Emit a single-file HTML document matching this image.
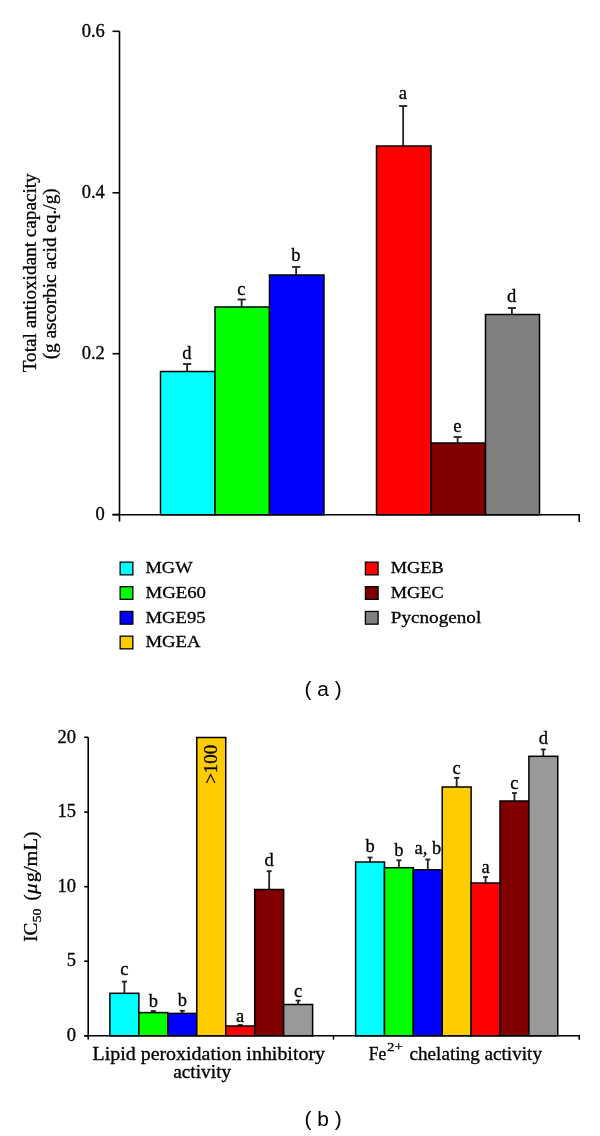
<!DOCTYPE html>
<html><head><meta charset="utf-8"><style>
html,body{margin:0;padding:0;background:#fff;width:600px;height:1136px;overflow:hidden}
svg{display:block;will-change:transform}
text{stroke:#000;stroke-width:0.3px}
</style></head><body>
<svg width="600" height="1136" viewBox="0 0 600 1136">
<rect x="0" y="0" width="600" height="1136" fill="#fff"/>
<line x1="119.50" y1="31.30" x2="119.50" y2="521.50" stroke="#000" stroke-width="1.6"/>
<line x1="112.50" y1="514.80" x2="580.00" y2="514.80" stroke="#000" stroke-width="1.6"/>
<line x1="579.20" y1="514.80" x2="579.20" y2="522.00" stroke="#000" stroke-width="1.6"/>
<line x1="112.50" y1="31.30" x2="119.50" y2="31.30" stroke="#000" stroke-width="1.6"/>
<text x="104.80" y="36.50" font-family='"Liberation Serif", serif' font-size="18.5" text-anchor="end" >0.6</text>
<line x1="112.50" y1="192.80" x2="119.50" y2="192.80" stroke="#000" stroke-width="1.6"/>
<text x="104.80" y="198.00" font-family='"Liberation Serif", serif' font-size="18.5" text-anchor="end" >0.4</text>
<line x1="112.50" y1="353.70" x2="119.50" y2="353.70" stroke="#000" stroke-width="1.6"/>
<text x="104.80" y="358.90" font-family='"Liberation Serif", serif' font-size="18.5" text-anchor="end" >0.2</text>
<line x1="112.50" y1="514.50" x2="119.50" y2="514.50" stroke="#000" stroke-width="1.6"/>
<text x="104.80" y="519.70" font-family='"Liberation Serif", serif' font-size="18.5" text-anchor="end" >0</text>
<line x1="187.15" y1="371.50" x2="187.15" y2="364.00" stroke="#222" stroke-width="1.8"/>
<line x1="183.05" y1="364.00" x2="191.25" y2="364.00" stroke="#222" stroke-width="1.8"/>
<line x1="241.65" y1="307.00" x2="241.65" y2="299.50" stroke="#222" stroke-width="1.8"/>
<line x1="237.55" y1="299.50" x2="245.75" y2="299.50" stroke="#222" stroke-width="1.8"/>
<line x1="296.15" y1="275.00" x2="296.15" y2="267.00" stroke="#222" stroke-width="1.8"/>
<line x1="292.05" y1="267.00" x2="300.25" y2="267.00" stroke="#222" stroke-width="1.8"/>
<line x1="403.15" y1="146.00" x2="403.15" y2="106.00" stroke="#222" stroke-width="1.8"/>
<line x1="399.05" y1="106.00" x2="407.25" y2="106.00" stroke="#222" stroke-width="1.8"/>
<line x1="457.65" y1="443.00" x2="457.65" y2="437.00" stroke="#222" stroke-width="1.8"/>
<line x1="453.55" y1="437.00" x2="461.75" y2="437.00" stroke="#222" stroke-width="1.8"/>
<line x1="511.90" y1="314.50" x2="511.90" y2="308.00" stroke="#222" stroke-width="1.8"/>
<line x1="507.80" y1="308.00" x2="516.00" y2="308.00" stroke="#222" stroke-width="1.8"/>
<rect x="160.50" y="371.50" width="54.50" height="143.30" fill="#00FFFF" stroke="#000" stroke-width="1.5"/>
<rect x="215.00" y="307.00" width="54.50" height="207.80" fill="#00FF00" stroke="#000" stroke-width="1.5"/>
<rect x="269.50" y="275.00" width="54.50" height="239.80" fill="#0000FF" stroke="#000" stroke-width="1.5"/>
<rect x="376.50" y="146.00" width="54.50" height="368.80" fill="#FF0000" stroke="#000" stroke-width="1.5"/>
<rect x="431.00" y="443.00" width="54.50" height="71.80" fill="#800000" stroke="#000" stroke-width="1.5"/>
<rect x="485.50" y="314.50" width="54.00" height="200.30" fill="#808080" stroke="#000" stroke-width="1.5"/>
<text x="186.95" y="359.20" font-family='"Liberation Serif", serif' font-size="18.5" text-anchor="middle" >d</text>
<text x="241.45" y="294.60" font-family='"Liberation Serif", serif' font-size="18.5" text-anchor="middle" >c</text>
<text x="295.95" y="261.30" font-family='"Liberation Serif", serif' font-size="18.5" text-anchor="middle" >b</text>
<text x="402.95" y="98.60" font-family='"Liberation Serif", serif' font-size="18.5" text-anchor="middle" >a</text>
<text x="457.45" y="432.30" font-family='"Liberation Serif", serif' font-size="18.5" text-anchor="middle" >e</text>
<text x="511.70" y="302.00" font-family='"Liberation Serif", serif' font-size="18.5" text-anchor="middle" >d</text>
<g transform="translate(36,272.8) rotate(-90)">
<text x="0.00" y="0.00" font-family='"Liberation Serif", serif' font-size="18" text-anchor="middle" textLength="199.00" lengthAdjust="spacingAndGlyphs" >Total antioxidant capacity</text>
</g>
<g transform="translate(55.5,273.8) rotate(-90)">
<text x="0.00" y="0.00" font-family='"Liberation Serif", serif' font-size="18" text-anchor="middle" textLength="171.00" lengthAdjust="spacingAndGlyphs" >(g ascorbic acid eq./g)</text>
</g>
<rect x="120.15" y="562.15" width="12.7" height="12.7" fill="#00FFFF" stroke="#000" stroke-width="1.3"/>
<text x="145.50" y="573.30" font-family='"Liberation Serif", serif' font-size="17.5" text-anchor="start" textLength="47.00" lengthAdjust="spacingAndGlyphs" >MGW</text>
<rect x="120.15" y="586.65" width="12.7" height="12.7" fill="#00FF00" stroke="#000" stroke-width="1.3"/>
<text x="145.50" y="597.80" font-family='"Liberation Serif", serif' font-size="17.5" text-anchor="start" textLength="60.50" lengthAdjust="spacingAndGlyphs" >MGE60</text>
<rect x="120.15" y="611.45" width="12.7" height="12.7" fill="#0000FF" stroke="#000" stroke-width="1.3"/>
<text x="145.50" y="622.60" font-family='"Liberation Serif", serif' font-size="17.5" text-anchor="start" textLength="60.00" lengthAdjust="spacingAndGlyphs" >MGE95</text>
<rect x="120.15" y="636.15" width="12.7" height="12.7" fill="#FFCC00" stroke="#000" stroke-width="1.3"/>
<text x="145.50" y="647.30" font-family='"Liberation Serif", serif' font-size="17.5" text-anchor="start" textLength="55.00" lengthAdjust="spacingAndGlyphs" >MGEA</text>
<rect x="365.40" y="562.15" width="12.7" height="12.7" fill="#FF0000" stroke="#000" stroke-width="1.3"/>
<text x="390.75" y="573.30" font-family='"Liberation Serif", serif' font-size="17.5" text-anchor="start" textLength="53.00" lengthAdjust="spacingAndGlyphs" >MGEB</text>
<rect x="365.40" y="586.65" width="12.7" height="12.7" fill="#800000" stroke="#000" stroke-width="1.3"/>
<text x="390.75" y="597.80" font-family='"Liberation Serif", serif' font-size="17.5" text-anchor="start" textLength="53.00" lengthAdjust="spacingAndGlyphs" >MGEC</text>
<rect x="365.40" y="611.45" width="12.7" height="12.7" fill="#808080" stroke="#000" stroke-width="1.3"/>
<text x="390.75" y="622.60" font-family='"Liberation Serif", serif' font-size="17.5" text-anchor="start" textLength="90.50" lengthAdjust="spacingAndGlyphs" >Pycnogenol</text>
<text x="304.60" y="695.70" font-family='"Liberation Sans", sans-serif' font-size="20" text-anchor="start" textLength="37.20" lengthAdjust="spacingAndGlyphs" style="stroke-width:0">( a )</text>
<line x1="88.20" y1="737.30" x2="88.20" y2="1039.50" stroke="#000" stroke-width="1.6"/>
<line x1="84.20" y1="1035.80" x2="580.00" y2="1035.80" stroke="#000" stroke-width="1.6"/>
<line x1="333.50" y1="1035.80" x2="333.50" y2="1039.70" stroke="#000" stroke-width="1.4"/>
<line x1="579.20" y1="1035.80" x2="579.20" y2="1039.70" stroke="#000" stroke-width="1.6"/>
<line x1="84.20" y1="737.30" x2="88.20" y2="737.30" stroke="#000" stroke-width="1.6"/>
<text x="75.90" y="742.50" font-family='"Liberation Serif", serif' font-size="18.5" text-anchor="end" >20</text>
<line x1="84.20" y1="812.10" x2="88.20" y2="812.10" stroke="#000" stroke-width="1.6"/>
<text x="75.90" y="817.30" font-family='"Liberation Serif", serif' font-size="18.5" text-anchor="end" >15</text>
<line x1="84.20" y1="886.70" x2="88.20" y2="886.70" stroke="#000" stroke-width="1.6"/>
<text x="75.90" y="891.90" font-family='"Liberation Serif", serif' font-size="18.5" text-anchor="end" >10</text>
<line x1="84.20" y1="961.20" x2="88.20" y2="961.20" stroke="#000" stroke-width="1.6"/>
<text x="75.90" y="966.40" font-family='"Liberation Serif", serif' font-size="18.5" text-anchor="end" >5</text>
<line x1="84.20" y1="1035.80" x2="88.20" y2="1035.80" stroke="#000" stroke-width="1.6"/>
<text x="75.90" y="1041.00" font-family='"Liberation Serif", serif' font-size="18.5" text-anchor="end" >0</text>
<line x1="124.38" y1="993.30" x2="124.38" y2="981.60" stroke="#222" stroke-width="1.8"/>
<line x1="121.88" y1="981.60" x2="126.88" y2="981.60" stroke="#222" stroke-width="1.8"/>
<line x1="153.34" y1="1012.60" x2="153.34" y2="1011.00" stroke="#222" stroke-width="1.8"/>
<line x1="150.84" y1="1011.00" x2="155.84" y2="1011.00" stroke="#222" stroke-width="1.8"/>
<line x1="182.30" y1="1013.40" x2="182.30" y2="1010.80" stroke="#222" stroke-width="1.8"/>
<line x1="179.80" y1="1010.80" x2="184.80" y2="1010.80" stroke="#222" stroke-width="1.8"/>
<line x1="240.22" y1="1026.00" x2="240.22" y2="1025.00" stroke="#222" stroke-width="1.8"/>
<line x1="237.72" y1="1025.00" x2="242.72" y2="1025.00" stroke="#222" stroke-width="1.8"/>
<line x1="269.18" y1="889.50" x2="269.18" y2="871.20" stroke="#222" stroke-width="1.8"/>
<line x1="266.68" y1="871.20" x2="271.68" y2="871.20" stroke="#222" stroke-width="1.8"/>
<line x1="298.14" y1="1004.50" x2="298.14" y2="1000.60" stroke="#222" stroke-width="1.8"/>
<line x1="295.64" y1="1000.60" x2="300.64" y2="1000.60" stroke="#222" stroke-width="1.8"/>
<rect x="109.90" y="993.30" width="28.96" height="42.50" fill="#00FFFF" stroke="#000" stroke-width="1.5"/>
<rect x="138.86" y="1012.60" width="28.96" height="23.20" fill="#00FF00" stroke="#000" stroke-width="1.5"/>
<rect x="167.82" y="1013.40" width="28.96" height="22.40" fill="#0000FF" stroke="#000" stroke-width="1.5"/>
<rect x="196.78" y="737.50" width="28.96" height="298.30" fill="#FFCC00" stroke="#000" stroke-width="1.5"/>
<rect x="225.74" y="1026.00" width="28.96" height="9.80" fill="#FF0000" stroke="#000" stroke-width="1.5"/>
<rect x="254.70" y="889.50" width="28.96" height="146.30" fill="#800000" stroke="#000" stroke-width="1.5"/>
<rect x="283.66" y="1004.50" width="28.96" height="31.30" fill="#999999" stroke="#000" stroke-width="1.5"/>
<text x="124.38" y="975.40" font-family='"Liberation Serif", serif' font-size="18.5" text-anchor="middle" >c</text>
<text x="153.34" y="1006.50" font-family='"Liberation Serif", serif' font-size="18.5" text-anchor="middle" >b</text>
<text x="182.30" y="1006.30" font-family='"Liberation Serif", serif' font-size="18.5" text-anchor="middle" >b</text>
<text x="240.22" y="1022.00" font-family='"Liberation Serif", serif' font-size="18.5" text-anchor="middle" >a</text>
<text x="269.18" y="865.70" font-family='"Liberation Serif", serif' font-size="18.5" text-anchor="middle" >d</text>
<text x="298.14" y="996.90" font-family='"Liberation Serif", serif' font-size="18.5" text-anchor="middle" >c</text>
<line x1="370.04" y1="862.00" x2="370.04" y2="857.50" stroke="#222" stroke-width="1.8"/>
<line x1="367.54" y1="857.50" x2="372.54" y2="857.50" stroke="#222" stroke-width="1.8"/>
<line x1="398.92" y1="867.70" x2="398.92" y2="860.30" stroke="#222" stroke-width="1.8"/>
<line x1="396.42" y1="860.30" x2="401.42" y2="860.30" stroke="#222" stroke-width="1.8"/>
<line x1="427.80" y1="869.80" x2="427.80" y2="859.50" stroke="#222" stroke-width="1.8"/>
<line x1="425.30" y1="859.50" x2="430.30" y2="859.50" stroke="#222" stroke-width="1.8"/>
<line x1="456.68" y1="787.00" x2="456.68" y2="777.90" stroke="#222" stroke-width="1.8"/>
<line x1="454.18" y1="777.90" x2="459.18" y2="777.90" stroke="#222" stroke-width="1.8"/>
<line x1="485.56" y1="883.00" x2="485.56" y2="877.00" stroke="#222" stroke-width="1.8"/>
<line x1="483.06" y1="877.00" x2="488.06" y2="877.00" stroke="#222" stroke-width="1.8"/>
<line x1="514.44" y1="801.00" x2="514.44" y2="793.00" stroke="#222" stroke-width="1.8"/>
<line x1="511.94" y1="793.00" x2="516.94" y2="793.00" stroke="#222" stroke-width="1.8"/>
<line x1="543.32" y1="756.30" x2="543.32" y2="749.40" stroke="#222" stroke-width="1.8"/>
<line x1="540.82" y1="749.40" x2="545.82" y2="749.40" stroke="#222" stroke-width="1.8"/>
<rect x="355.60" y="862.00" width="28.88" height="173.80" fill="#00FFFF" stroke="#000" stroke-width="1.5"/>
<rect x="384.48" y="867.70" width="28.88" height="168.10" fill="#00FF00" stroke="#000" stroke-width="1.5"/>
<rect x="413.36" y="869.80" width="28.88" height="166.00" fill="#0000FF" stroke="#000" stroke-width="1.5"/>
<rect x="442.24" y="787.00" width="28.88" height="248.80" fill="#FFCC00" stroke="#000" stroke-width="1.5"/>
<rect x="471.12" y="883.00" width="28.88" height="152.80" fill="#FF0000" stroke="#000" stroke-width="1.5"/>
<rect x="500.00" y="801.00" width="28.88" height="234.80" fill="#800000" stroke="#000" stroke-width="1.5"/>
<rect x="528.88" y="756.30" width="28.88" height="279.50" fill="#999999" stroke="#000" stroke-width="1.5"/>
<text x="370.04" y="852.00" font-family='"Liberation Serif", serif' font-size="18.5" text-anchor="middle" >b</text>
<text x="398.92" y="856.20" font-family='"Liberation Serif", serif' font-size="18.5" text-anchor="middle" >b</text>
<text x="427.80" y="853.60" font-family='"Liberation Serif", serif' font-size="18.5" text-anchor="middle" >a, b</text>
<text x="456.68" y="774.20" font-family='"Liberation Serif", serif' font-size="18.5" text-anchor="middle" >c</text>
<text x="485.56" y="873.30" font-family='"Liberation Serif", serif' font-size="18.5" text-anchor="middle" >a</text>
<text x="514.44" y="789.40" font-family='"Liberation Serif", serif' font-size="18.5" text-anchor="middle" >c</text>
<text x="543.32" y="743.50" font-family='"Liberation Serif", serif' font-size="18.5" text-anchor="middle" >d</text>
<g transform="translate(217,764.3) rotate(-90)">
<text x="0.00" y="0.00" font-family='"Liberation Serif", serif' font-size="18" text-anchor="middle" textLength="39.00" lengthAdjust="spacingAndGlyphs" >&gt;100</text>
</g>
<text x="92.50" y="1059.50" font-family='"Liberation Serif", serif' font-size="18" text-anchor="start" textLength="232.50" lengthAdjust="spacingAndGlyphs" >Lipid peroxidation inhibitory</text>
<text x="173.20" y="1078.00" font-family='"Liberation Serif", serif' font-size="18" text-anchor="start" textLength="58.00" lengthAdjust="spacingAndGlyphs" >activity</text>
<text x="368.80" y="1060.00" font-family='"Liberation Serif", serif' font-size="18" text-anchor="start" textLength="17.50" lengthAdjust="spacingAndGlyphs" >Fe</text>
<text x="387.00" y="1051.20" font-family='"Liberation Serif", serif' font-size="13" text-anchor="start" textLength="15.80" lengthAdjust="spacingAndGlyphs" >2+</text>
<text x="409.50" y="1060.00" font-family='"Liberation Serif", serif' font-size="18" text-anchor="start" textLength="132.50" lengthAdjust="spacingAndGlyphs" >chelating activity</text>
<g transform="translate(36.5,941.5) rotate(-90)">
<text x="-0.30" y="0.00" font-family='"Liberation Serif", serif' font-size="18" text-anchor="start" textLength="19.20" lengthAdjust="spacingAndGlyphs" >IC</text>
<text x="19.00" y="4.60" font-family='"Liberation Serif", serif' font-size="13" text-anchor="start" textLength="14.00" lengthAdjust="spacingAndGlyphs" >50</text>
<text x="41.00" y="0.00" font-family='"Liberation Serif", serif' font-size="18" text-anchor="start" textLength="6.20" lengthAdjust="spacingAndGlyphs" >(</text>
<text x="47.6" y="0" font-family='"Liberation Serif", serif' font-size="18" font-style="italic" textLength="10.6" lengthAdjust="spacingAndGlyphs">μ</text>
<text x="59.30" y="0.00" font-family='"Liberation Serif", serif' font-size="18" text-anchor="start" textLength="50.80" lengthAdjust="spacingAndGlyphs" >g/mL)</text>
</g>
<text x="304.60" y="1126.20" font-family='"Liberation Sans", sans-serif' font-size="20" text-anchor="start" textLength="37.20" lengthAdjust="spacingAndGlyphs" style="stroke-width:0">( b )</text>
</svg>
</body></html>
